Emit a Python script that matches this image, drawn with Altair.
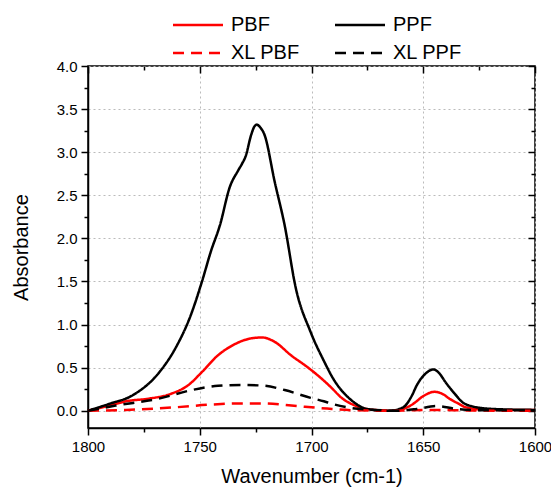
import altair as alt
import pandas as pd

series_names = ["PBF", "PPF", "XL PBF", "XL PPF"]
series_colors = ["#ff0000", "#000000", "#ff0000", "#000000"]

wn_pbf = [1800, 1790.5, 1783, 1773, 1762.5, 1755, 1749, 1742, 1734.5, 1727, 1722, 1716.5,
          1709, 1702, 1694.5, 1690.8, 1687, 1680, 1672, 1662, 1658, 1654.5, 1650, 1645,
          1641, 1638.3, 1634, 1631, 1620, 1600]
ab_pbf = [0, 0.06, 0.11, 0.14, 0.2, 0.3, 0.45, 0.64, 0.77, 0.84, 0.85, 0.8,
          0.64, 0.51, 0.35, 0.26, 0.16, 0.055, 0.01, 0.0, 0.03, 0.08, 0.17, 0.22,
          0.19, 0.14, 0.08, 0.04, 0.01, 0.01]

wn_ppf = [1800, 1790.5, 1780, 1768, 1761, 1754, 1749, 1745, 1741, 1736.5, 1733, 1731,
          1729.5, 1727, 1725.5, 1724.5, 1723, 1721, 1716.5, 1712, 1707, 1700.5, 1694.5,
          1690, 1682.5, 1675, 1665, 1659, 1655, 1653, 1649, 1645.5, 1643, 1640, 1636,
          1632.5, 1628, 1625, 1613, 1600]
ab_ppf = [0, 0.08, 0.18, 0.45, 0.72, 1.11, 1.5, 1.85, 2.15, 2.6, 2.78, 2.87,
          2.95, 3.2, 3.3, 3.32, 3.29, 3.2, 2.66, 2.15, 1.42, 0.92, 0.58,
          0.36, 0.13, 0.02, 0.0, 0.04, 0.18, 0.29, 0.43, 0.48, 0.44, 0.33, 0.2,
          0.1, 0.05, 0.035, 0.015, 0.01]

wn_xl_pbf = [1800, 1783, 1761, 1746, 1731, 1721, 1709, 1693, 1680, 1665, 1645, 1630, 1600]
ab_xl_pbf = [0, 0.01, 0.04, 0.07, 0.085, 0.085, 0.06, 0.025, 0.005, 0.0, 0.01, 0.003, 0.0]

wn_xl_ppf = [1800, 1787.6, 1768.4, 1753.6, 1741.8, 1731.4, 1721, 1712, 1700.4, 1694.5,
             1690.8, 1684, 1672, 1662, 1653, 1644, 1635, 1622, 1600]
ab_xl_ppf = [0, 0.06, 0.14, 0.24, 0.29, 0.30, 0.29, 0.24, 0.15, 0.11,
             0.08, 0.04, 0.01, 0.0, 0.02, 0.055, 0.02, 0.005, 0.005]

x_major = [1800, 1750, 1700, 1650, 1600]
x_minor = [1775, 1725, 1675, 1625]
y_major = [0.0, 0.5, 1.0, 1.5, 2.0, 2.5, 3.0, 3.5, 4.0]
y_minor = [0.25, 0.75, 1.25, 1.75, 2.25, 2.75, 3.25, 3.75]

rows = []
for name, wns, abs_ in [("PBF", wn_pbf, ab_pbf), ("PPF", wn_ppf, ab_ppf),
                        ("XL PBF", wn_xl_pbf, ab_xl_pbf), ("XL PPF", wn_xl_ppf, ab_xl_ppf)]:
    for w, a in zip(wns, abs_):
        rows.append({"wn": w, "ab": a, "series": name})
df = pd.DataFrame(rows)

FONT = "Liberation Sans"
x_scale = alt.Scale(domain=[1600, 1800], reverse=True, nice=False, zero=False)
y_scale = alt.Scale(domain=[-0.2, 4.0], nice=False, zero=False)

legend = alt.Legend(
    title=None, orient="none", legendX=100, legendY=-51, columns=2, direction="horizontal",
    symbolType="M-5,0H5", symbolSize=100, symbolStrokeWidth=2.5,
    symbolFillColor="transparent",
    labelFont=FONT, labelFontSize=20, labelColor="black", labelOffset=23,
    columnPadding=30, rowPadding=8, padding=0,
)

base = alt.Chart(df)

lines = base.mark_line(strokeWidth=2.5, interpolate="monotone").encode(
    x=alt.X("wn:Q", scale=x_scale, axis=alt.Axis(
        orient="bottom", values=x_major, format="d", title="Wavenumber (cm-1)",
        tickSize=7, tickWidth=1.5, tickColor="black", labelFlush=False,
        labelFont=FONT, labelFontSize=15, labelColor="black", labelPadding=4,
        titleFont=FONT, titleFontSize=20, titleFontWeight="normal", titleColor="black",
        titlePadding=12, grid=True, gridDash=[2, 3], gridColor="#bbbbbb", gridWidth=1,
        domain=True, domainColor="black", domainWidth=1.5)),
    y=alt.Y("ab:Q", scale=y_scale, axis=alt.Axis(
        orient="left", values=y_major, format=".1f", title="Absorbance",
        tickSize=7, tickWidth=1.5, tickColor="black", labelFlush=False,
        labelFont=FONT, labelFontSize=15, labelColor="black", labelPadding=4,
        titleFont=FONT, titleFontSize=20, titleFontWeight="normal", titleColor="black",
        titlePadding=25, grid=True, gridDash=[2, 3], gridColor="#bbbbbb", gridWidth=1,
        domain=True, domainColor="black", domainWidth=1.5)),
    color=alt.Color("series:N", scale=alt.Scale(domain=series_names, range=series_colors),
                    legend=legend),
    strokeDash=alt.StrokeDash("series:N", scale=alt.Scale(
        domain=series_names, range=[[1, 0], [1, 0], [11, 7], [11, 7]]), legend=legend),
)


def deco(orient_x, orient_y, xv, yv, size, offset):
    return base.mark_point(opacity=0).encode(
        x=alt.X("wn:Q", scale=x_scale, axis=alt.Axis(
            orient=orient_x, values=xv, labels=False, title=None, domain=False,
            grid=False, tickSize=size, tickWidth=1.5, tickColor="black", offset=offset)),
        y=alt.Y("ab:Q", scale=y_scale, axis=alt.Axis(
            orient=orient_y, values=yv, labels=False, title=None, domain=False,
            grid=False, tickSize=size, tickWidth=1.5, tickColor="black", offset=offset)),
    )


chart = alt.layer(
    lines,
    deco("bottom", "left", x_minor, y_minor, 4, 0),
    deco("top", "right", x_major, y_major, 7, -7),
    deco("top", "right", x_minor, y_minor, 4, -4),
).resolve_axis(x="independent", y="independent").properties(
    width=447, height=362,
    autosize=alt.AutoSizeParams(type="none"),
    padding={"left": 80, "top": 58, "right": 16, "bottom": 60},
).configure_view(stroke="black", strokeWidth=1.5)

chart.save("out.html", embed_options={"renderer": "svg", "actions": False})
